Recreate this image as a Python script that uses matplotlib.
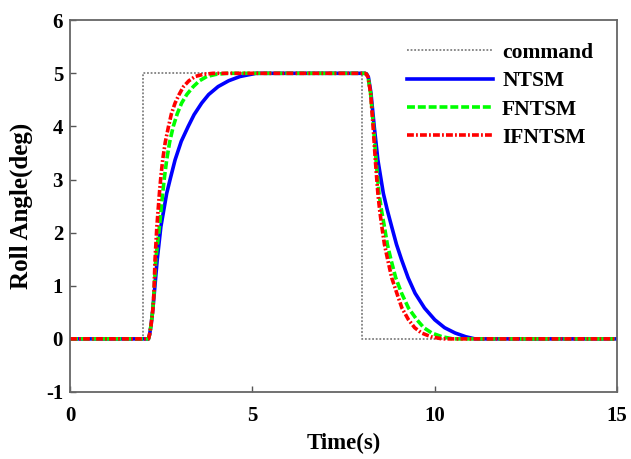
import matplotlib
matplotlib.use("Agg")
import matplotlib.pyplot as plt

# command signal
cmd_t = [0, 2.0, 2.0, 8.0, 8.0, 15]
cmd_y = [0, 0, 5, 5, 0, 0]

# NTSM response
ntsm_t = [0, 2.15, 2.18, 2.22, 2.27, 2.31, 2.39, 2.49, 2.65, 2.75, 2.88, 3.05, 3.24, 3.4,
          3.61, 3.8, 4.06, 4.35, 4.66, 5.1,
          8.08, 8.13, 8.18, 8.25, 8.34, 8.44, 8.59, 8.7, 8.82, 8.95, 9.09, 9.27, 9.46, 9.72,
          10.0, 10.27, 10.56, 10.85, 11.1, 15]
ntsm_y = [0, 0, 0.08, 0.25, 0.55, 0.86, 1.49, 2.11, 2.74, 3.02, 3.37, 3.72, 4.0, 4.22,
          4.44, 4.6, 4.75, 4.86, 4.94, 5.0,
          5.0, 4.99, 4.93, 4.63, 4.0, 3.37, 2.74, 2.42, 2.11, 1.78, 1.49, 1.15, 0.86, 0.58,
          0.36, 0.21, 0.11, 0.04, 0.0, 0]

# FNTSM response
fntsm_t = [0, 2.15, 2.18, 2.22, 2.27, 2.30, 2.35, 2.45, 2.54, 2.59, 2.65, 2.73, 2.83, 2.94,
           3.06, 3.2, 3.38, 3.55, 3.75, 4.0, 4.3,
           8.08, 8.12, 8.17, 8.24, 8.32, 8.39, 8.47, 8.54, 8.62, 8.70, 8.80, 8.93, 9.09, 9.28,
           9.51, 9.7, 9.92, 10.2, 10.5, 15]
fntsm_y = [0, 0, 0.08, 0.25, 0.55, 0.86, 1.49, 2.11, 2.74, 3.05, 3.37, 3.7, 4.0, 4.24,
           4.44, 4.6, 4.75, 4.86, 4.94, 4.98, 5.0,
           5.0, 4.99, 4.93, 4.63, 4.0, 3.37, 2.74, 2.42, 2.11, 1.78, 1.49, 1.15, 0.86, 0.58,
           0.36, 0.21, 0.11, 0.04, 0.0, 0]

# IFNTSM response
ifntsm_t = [0, 2.15, 2.18, 2.22, 2.27, 2.30, 2.33, 2.38, 2.45, 2.49, 2.54, 2.61, 2.70, 2.78,
            2.88, 2.99, 3.11, 3.26, 3.43, 3.65, 3.92,
            8.08, 8.12, 8.17, 8.24, 8.31, 8.37, 8.44, 8.49, 8.55, 8.62, 8.71, 8.82, 8.96, 9.1,
            9.28, 9.45, 9.64, 9.9, 10.2, 15]
ifntsm_y = [0, 0, 0.08, 0.25, 0.55, 0.86, 1.49, 2.11, 2.74, 3.05, 3.37, 3.7, 4.0, 4.24,
            4.44, 4.6, 4.75, 4.86, 4.94, 4.98, 5.0,
            5.0, 4.99, 4.93, 4.63, 4.0, 3.37, 2.74, 2.42, 2.11, 1.78, 1.49, 1.15, 0.86, 0.58,
            0.36, 0.21, 0.11, 0.04, 0.0, 0]

x_ticks = [0, 5, 10, 15]
y_ticks = [-1, 0, 1, 2, 3, 4, 5, 6]

plt.rcParams['font.family'] = ['Liberation Serif', 'DejaVu Serif']
plt.rcParams['font.weight'] = 'bold'

fig = plt.figure(figsize=(6.31, 4.59), dpi=100)
ax = fig.add_axes([0.111, 0.146, 0.867, 0.810])

ax.plot(cmd_t, cmd_y, color='#808080', linestyle=(0, (1, 1)), linewidth=1.3, label='command')
ax.plot(ntsm_t, ntsm_y, color='#0000ff', linestyle='-', linewidth=2.6, label='NTSM')
ax.plot(fntsm_t, fntsm_y, color='#00ff00', linestyle=(0, (2.2, 0.8)), linewidth=2.6, label='FNTSM')
ax.plot(ifntsm_t, ifntsm_y, color='#ff0000', linestyle=(0, (1.9, 0.6, 0.5, 0.6)), linewidth=2.6,
        label='IFNTSM')

ax.set_xlim(0, 15)
ax.set_ylim(-1, 6)
ax.set_xticks(x_ticks)
ax.set_yticks(y_ticks)
ax.set_xticklabels([str(v) for v in x_ticks])
ax.set_yticklabels([str(v) for v in y_ticks])
ax.tick_params(direction='in', length=4, width=1, color='#555555', labelsize=15)
ax.tick_params(axis='x', pad=10)
ax.tick_params(axis='y', pad=5)
for s in ax.spines.values():
    s.set_color('#666666')
    s.set_linewidth(1.3)

ax.set_xlabel('Time(s)', fontsize=16.5, fontweight='bold', labelpad=5)
ax.set_ylabel('Roll Angle(deg)', fontsize=18, fontweight='bold', labelpad=9)

leg = ax.legend(loc='upper right', frameon=False, handlelength=4.0,
                handletextpad=0.42, labelspacing=0.38, borderaxespad=0.0,
                bbox_to_anchor=(0.972, 0.962),
                prop={'weight': 'bold', 'size': 15.5})

fig.savefig('out.png', dpi=100)
